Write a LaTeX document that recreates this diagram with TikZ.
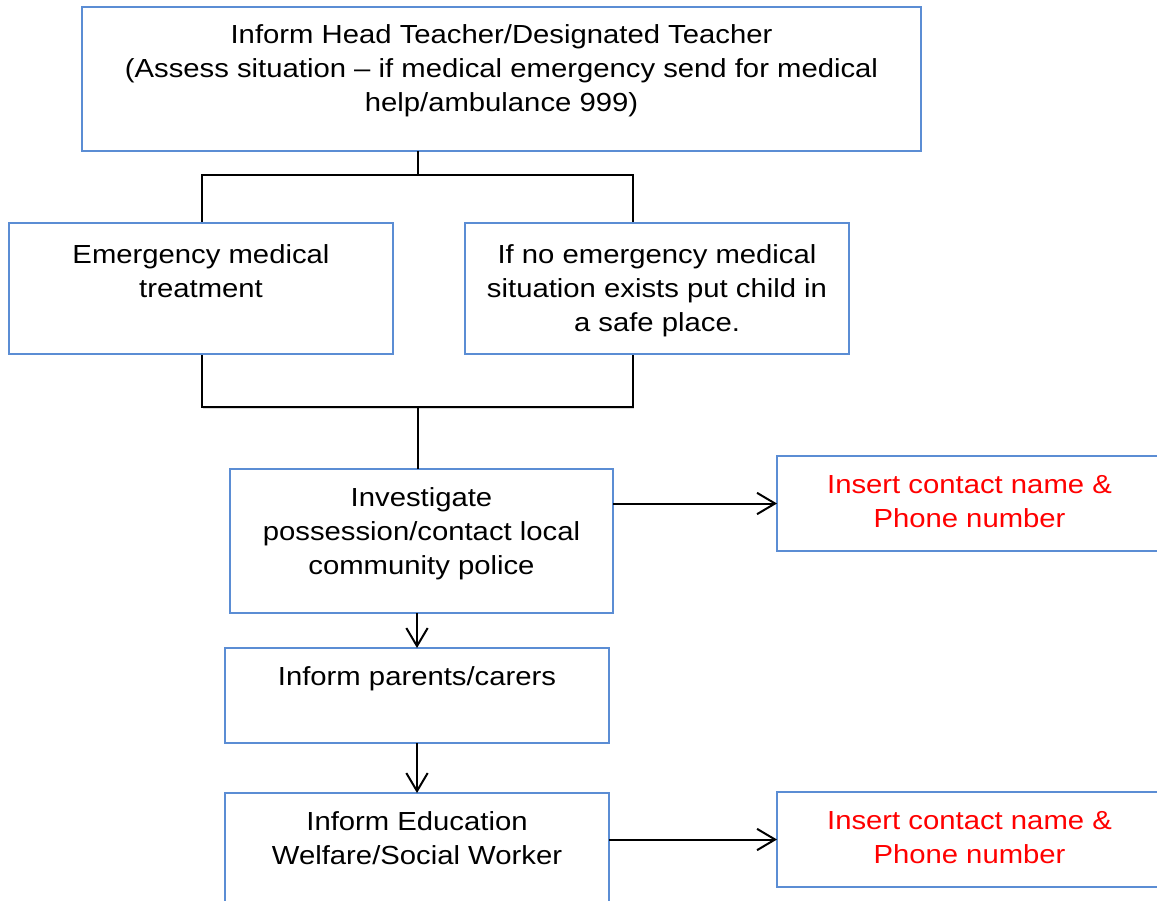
\documentclass[tikz,border=0pt]{standalone}
\usepackage{fontspec}
\setmainfont{Liberation Sans}[FakeStretch=1.12]
\usetikzlibrary{arrows.meta,fit,shadows}
\definecolor{boxblue}{RGB}{91,141,212}
\definecolor{txtred}{RGB}{255,0,0}
\begin{document}
\begin{tikzpicture}[x=0.75pt,y=-0.75pt,
  box/.style={draw=boxblue, line width=1.5pt, fill=white, inner sep=0pt, outer sep=0pt},
  framebox/.style={draw=black, line width=1.1pt, fill=white, inner sep=0pt, outer sep=0pt,
    drop shadow={shadow xshift=1pt, shadow yshift=-1.6pt, opacity=0.3}},
  txt/.style={font=\fontsize{19.6pt}{25.5pt}\selectfont, align=center, anchor=north, inner sep=0pt, outer sep=0pt},
  redtxt/.style={txt, text=txtred},
  conn/.style={draw=black, line width=1.5pt},
  arr/.style={conn, -{Straight Barb[length=13.5pt,width=16pt]}}
]
\useasboundingbox (0,0) rectangle (1157,900);

% bracket frame behind the two middle boxes
\node[framebox, fit={(202,175) (633,407)}] (frame) {};

% boxes
\node[box, fit={(82,7) (921,151)}] (top) {};
\node[box, fit={(9,223) (393,354)}] (left) {};
\node[box, fit={(465,223) (849,354)}] (right) {};
\node[box, fit={(230,469) (613,613)}] (invest) {};
\node[box, fit={(777,456) (1162,551)}] (red1) {};
\node[box, fit={(225,648) (609,743)}] (parents) {};
\node[box, fit={(225,793) (609,930)}] (edu) {};
\node[box, fit={(777,792) (1162,887)}] (red2) {};

% texts
\node[txt] (toptxt) at (501.5,25) {Inform Head Teacher/Designated Teacher\\(Assess situation -- if medical emergency send for medical\\help/ambulance 999)};
\node[txt] (lefttxt) at (201,245) {Emergency medical\\treatment};
\node[txt] (righttxt) at (657,245) {If no emergency medical\\situation exists put child in\\a safe place.};
\node[txt] (investtxt) at (421.5,488) {Investigate\\possession/contact local\\community police};
\node[redtxt] (red1txt) at (969.5,475) {Insert contact name \&\\Phone number};
\node[txt] (parentstxt) at (417,667) {Inform parents/carers};
\node[txt] (edutxt) at (417,812) {Inform Education\\Welfare/Social Worker};
\node[redtxt] (red2txt) at (969.5,811) {Insert contact name \&\\Phone number};

% connectors
\draw[conn] (frame.north |- top.south) -- (frame.north);
\draw[conn] (frame.south) -- (frame.south |- invest.north);
\draw[arr] (invest.east |- red1.west) -- (red1.west);
\draw[arr] (parents.north |- invest.south) -- (parents.north);
\draw[arr] (parents.south) -- (edu.north);
\draw[arr] (edu.east |- red2.west) -- (red2.west);
\end{tikzpicture}
\end{document}
